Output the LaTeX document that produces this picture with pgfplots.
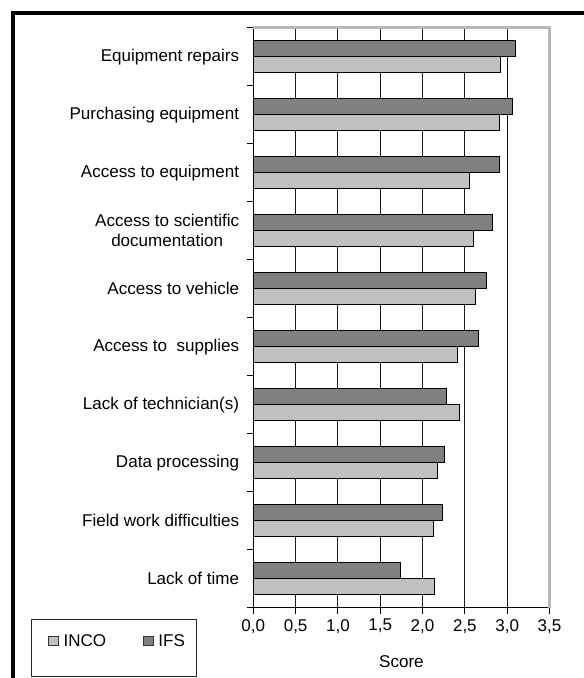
\documentclass[border=0pt]{standalone}
\usepackage{pgfplots}
\pgfplotsset{compat=1.18}
\usepackage{fontspec}
\setmainfont{Liberation Sans}
\definecolor{ifs}{HTML}{808080}
\definecolor{inco}{HTML}{C0C0C0}
\definecolor{pborder}{HTML}{B8B8B8}
\newcommand{\lf}{\fontsize{17.1}{19.7}\selectfont}
\begin{document}
\begin{tikzpicture}[x=1bp,y=1bp]
\useasboundingbox (0,0) rectangle (584,678);
\draw[line width=4bp] (13,-10) -- (13,665) -- (600,665);
\draw[line width=0.9bp, black!85] (31,2) rectangle (196,59);
\begin{axis}[
  at={(253.3bp,70.3bp)}, anchor=south west,
  scale only axis, width=296.2bp, height=580bp,
  xbar, bar width=0.28,
  xmin=0, xmax=3.5, ymin=0.5, ymax=10.5,
  xtick={0,0.5,1,1.5,2,2.5,3,3.5},
  ytick={0.5,1.5,2.5,3.5,4.5,5.5,6.5,7.5,8.5,9.5,10.5},
  y tick label as interval,
  yticklabels={Lack of time, Field work difficulties, Data processing, Lack of technician(s), Access to~ supplies, Access to vehicle, {Access to scientific\\documentation}, Access to equipment, Purchasing equipment, Equipment repairs},
  axis lines=left, axis line style={-, line width=0.9bp, black},
  tick align=outside, major tick length=6bp,
  tick style={black, line width=0.9bp},
  xmajorgrids, grid style={black!90, line width=0.9bp},
  xticklabel style={font=\lf, yshift=-2bp, /pgf/number format/fixed, /pgf/number format/fixed zerofill, /pgf/number format/precision=1, /pgf/number format/use comma, /pgf/number format/assume math mode=true},
  yticklabel style={font=\lf, align=center, anchor=east, inner sep=0pt, xshift=-8bp},
  xlabel={Score},
  xlabel style={font=\lf, at={(axis description cs:0.5,-0.1031)}, anchor=base},
  legend entries={INCO, IFS},
  legend columns=2,
  legend style={draw=none, fill=none, inner sep=0pt, font=\lf,
    at={(axis description cs:-0.693,-0.0574)}, anchor=west,
    nodes={inner sep=0pt},
    column sep=5bp, /tikz/every even column/.append style={column sep=37bp}},
  clip=false,
]
\addplot[fill=inco, draw=black, line width=0.9bp, bar shift=-0.14,
  legend image code/.code={\draw[fill=inco, draw=black!80, line width=0.6bp] (0bp,-4.8bp) rectangle (9.7bp,4.8bp);}]
  coordinates {(2.14,1) (2.13,2) (2.17,3) (2.43,4) (2.41,5) (2.62,6) (2.60,7) (2.55,8) (2.91,9) (2.92,10)};
\addplot[fill=ifs, draw=black, line width=0.9bp, bar shift=0.14,
  legend image code/.code={\draw[fill=ifs, draw=black!80, line width=0.6bp] (0bp,-4.8bp) rectangle (9.7bp,4.8bp);}]
  coordinates {(1.74,1) (2.23,2) (2.26,3) (2.28,4) (2.66,5) (2.75,6) (2.82,7) (2.91,8) (3.06,9) (3.10,10)};
\draw[pborder, line width=3bp] (rel axis cs:0,1) -- (rel axis cs:1,1) -- (rel axis cs:1,0);
\end{axis}
\end{tikzpicture}
\end{document}
